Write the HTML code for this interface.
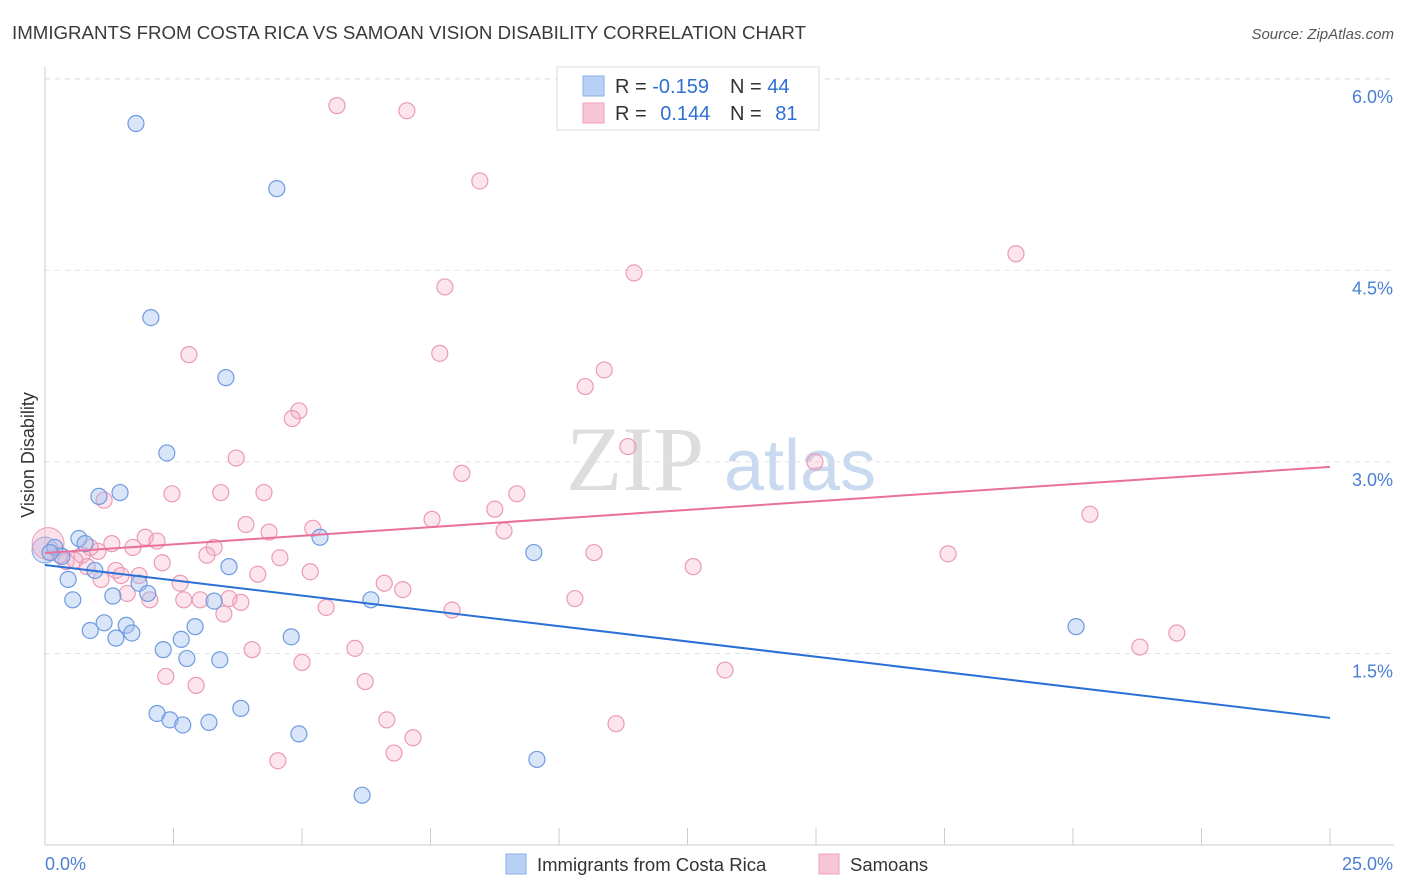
<!DOCTYPE html>
<html><head><meta charset="utf-8"><style>
body{margin:0;background:#fff;font-family:"Liberation Sans",sans-serif;}
svg{display:block}
</style></head><body>
<svg id="chart" width="1406" height="892" xmlns="http://www.w3.org/2000/svg">
<text x="12" y="39" font-size="18.7" fill="#3a3a3a">IMMIGRANTS FROM COSTA RICA VS SAMOAN VISION DISABILITY CORRELATION CHART</text>
<text x="1394" y="39" font-size="15" fill="#555" font-style="italic" text-anchor="end">Source: ZipAtlas.com</text>
<g>
<text x="635" y="490" font-size="92" fill="#ddd" font-family="Liberation Serif" text-anchor="middle">ZIP</text>
<text x="800" y="490" font-size="72" fill="#c8d9f0" text-anchor="middle">atlas</text>
</g>
<g id="grid"></g>
<g id="axes"></g>
<g id="marks"></g>
<text transform="translate(34,455) rotate(-90)" font-size="18" fill="#333" text-anchor="middle">Vision Disability</text>
<g>
<rect x="557" y="67" width="262" height="63" fill="#fff" stroke="#ddd"/>
<rect x="583" y="76" width="21" height="20" fill="#b8d0f5" stroke="#8ab0e8"/>
<rect x="583" y="103" width="21" height="20" fill="#f8c5d5" stroke="#f0a0bb"/>
<text x="615" y="93" font-size="20" fill="#333">R = <tspan fill="#2f6fd0">-0.159</tspan></text>
<text x="730" y="93" font-size="20" fill="#333">N = <tspan fill="#2f6fd0">44</tspan></text>
<text x="615" y="120" font-size="20" fill="#333">R = <tspan fill="#2f6fd0" dx="8">0.144</tspan></text>
<text x="730" y="120" font-size="20" fill="#333">N = <tspan fill="#2f6fd0" dx="8">81</tspan></text>
</g>
<g>
<rect x="506" y="854" width="20" height="20" fill="#b8d0f5" stroke="#8ab0e8"/>
<text x="537" y="871" font-size="18.5" fill="#333">Immigrants from Costa Rica</text>
<rect x="819" y="854" width="20" height="20" fill="#f8c5d5" stroke="#f0a0bb"/>
<text x="850" y="871" font-size="18.5" fill="#333">Samoans</text>
</g>
</svg>
<script>
const yTicks=[1.5,3.0,4.5,6.0];
const yTickLabels=["1.5%","3.0%","4.5%","6.0%"];
const xEnds=[0,25];
const xEndLabels=["0.0%","25.0%"];
const blueX=[1.77,4.51,2.06,3.52,2.37,1.05,1.46,0.66,0.78,0.19,0.33,0.45,0.54,0.97,1.32,1.83,2.00,0.88,1.15,1.58,1.69,1.38,2.65,2.92,2.30,2.76,3.40,3.58,3.29,5.35,6.34,4.79,9.51,2.18,2.43,2.68,3.19,3.81,4.94,9.57,6.17,20.06,0.10];
const blueY=[5.65,5.14,4.13,3.66,3.07,2.73,2.76,2.40,2.36,2.33,2.26,2.08,1.92,2.15,1.95,2.05,1.97,1.68,1.74,1.72,1.66,1.62,1.61,1.71,1.53,1.46,1.45,2.18,1.91,2.41,1.92,1.63,2.29,1.03,0.98,0.94,0.96,1.07,0.87,0.67,0.39,1.71,2.29];
const pinkX=[5.68,7.04,8.46,18.89,11.46,7.78,2.80,7.68,10.88,10.51,4.94,4.81,11.34,3.72,8.11,14.98,2.47,3.42,4.26,9.18,1.15,8.75,20.33,7.53,3.91,5.21,8.93,4.36,1.95,2.18,1.30,1.71,3.29,3.15,10.68,17.57,4.57,1.03,0.72,0.41,2.28,1.38,1.48,1.83,5.16,4.14,12.61,0.82,1.09,2.63,6.60,6.96,3.58,2.70,3.02,3.81,2.04,1.60,10.31,3.48,5.47,7.92,22.02,21.30,4.03,6.03,5.00,2.35,2.94,6.23,13.23,6.65,11.11,7.16,6.79,4.53,0.29,0.58,0.88];
const pinkY=[5.79,5.75,5.20,4.63,4.48,4.37,3.84,3.85,3.72,3.59,3.40,3.34,3.12,3.03,2.91,3.00,2.75,2.76,2.76,2.75,2.70,2.63,2.59,2.55,2.51,2.48,2.46,2.45,2.41,2.38,2.36,2.33,2.33,2.27,2.29,2.28,2.25,2.30,2.27,2.22,2.21,2.15,2.11,2.11,2.14,2.12,2.18,2.18,2.08,2.05,2.05,2.00,1.93,1.92,1.92,1.90,1.92,1.97,1.93,1.81,1.86,1.84,1.66,1.55,1.53,1.54,1.43,1.32,1.25,1.28,1.37,0.98,0.95,0.84,0.72,0.66,2.27,2.23,2.33];
const blueTrend=[2.193,0.995];
const pinkTrend=[2.287,2.961];
const bigBlue=[0.0,2.31];
const bigPink=[0.06,2.36];

const X=v=>45+v*51.4, Y=v=>845-v*127.7;
const NS="http://www.w3.org/2000/svg";
function mk(parent,tag,attrs){const e=document.createElementNS(NS,tag);for(const k in attrs)e.setAttribute(k,attrs[k]);document.getElementById(parent).appendChild(e);return e;}
yTicks.forEach((t,i)=>{
 const g=mk('grid','line',{x1:45,x2:1394,y1:Y(t),y2:Y(t),stroke:'#e2e2e2','stroke-dasharray':'5,5'});
 
 
 const l=mk('axes','text',{x:1393,y:Y(t)+24,'font-size':18,fill:'#4a7fd4','text-anchor':'end'});
 l.textContent=yTickLabels[i];
 
 
});
const tg=mk('grid','line',{x1:45,x2:1394,y1:79,y2:79,stroke:'#e2e2e2','stroke-dasharray':'5,5'});


const ya=mk('axes','line',{x1:45,x2:45,y1:67,y2:845,stroke:'#ccc'});


const xa=mk('axes','line',{x1:45,x2:1394,y1:845,y2:845,stroke:'#ccc'});


for(let i=0;i<=10;i++){const v=i*2.5;
 const t=mk('axes','line',{x1:X(v),x2:X(v),y1:828,y2:845,stroke:'#ccc'});
 
 }
xEnds.forEach((v,i)=>{
 const l=mk('axes','text',{x:i?1393:45,y:870,'font-size':18,fill:'#4a7fd4','text-anchor':i?'end':'start'});
 l.textContent=xEndLabels[i];
 
 
});
const bb=mk('marks','circle',{cx:X(bigBlue[0]),cy:Y(bigBlue[1]),r:13,fill:'rgba(160,190,240,0.4)',stroke:'#7fa6e3','stroke-width':1});


const bp=mk('marks','circle',{cx:X(bigPink[0]),cy:Y(bigPink[1]),r:16,fill:'rgba(245,170,195,0.35)',stroke:'#eb9ab5','stroke-width':1});


pinkX.forEach((v,i)=>{
 const c=mk('marks','circle',{cx:X(v),cy:Y(pinkY[i]),r:8,fill:'rgba(245,170,195,0.3)',stroke:'#eb9ab5','stroke-width':1.2});
 
 
});
blueX.forEach((v,i)=>{
 const c=mk('marks','circle',{cx:X(v),cy:Y(blueY[i]),r:8,fill:'rgba(160,190,240,0.4)',stroke:'#6f9be0','stroke-width':1.2});
 
 
});
const pl=mk('marks','line',{x1:X(0),x2:X(25),y1:Y(pinkTrend[0]),y2:Y(pinkTrend[1]),stroke:'#e8709a','stroke-width':2});


const bl=mk('marks','line',{x1:X(0),x2:X(25),y1:Y(blueTrend[0]),y2:Y(blueTrend[1]),stroke:'#2a6fd6','stroke-width':2});


</script>
</body></html>
